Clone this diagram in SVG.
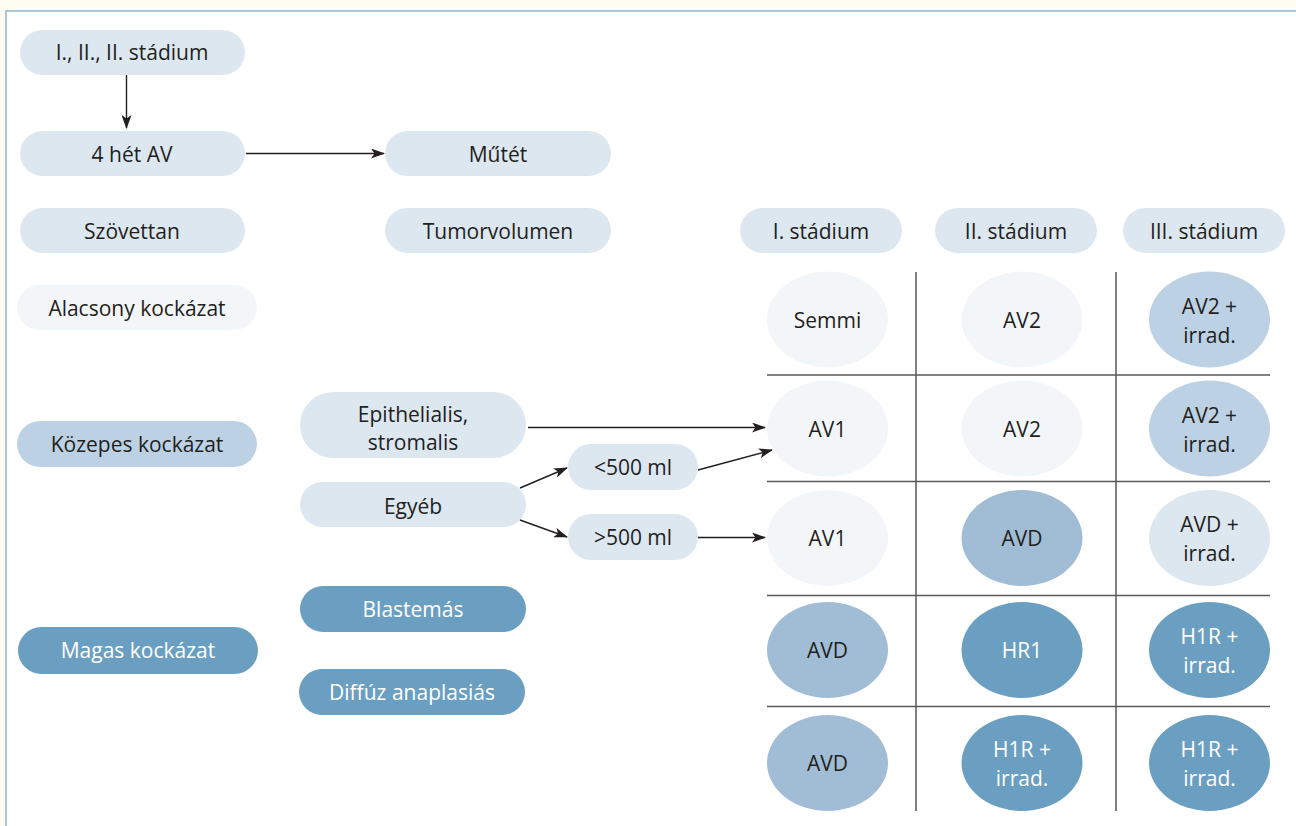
<svg xmlns="http://www.w3.org/2000/svg" width="1296" height="826" viewBox="0 0 1296 826">
<defs>
<marker id="ah" viewBox="0 0 14 10" markerWidth="14" markerHeight="10" refX="13" refY="5" orient="auto" markerUnits="userSpaceOnUse">
<path d="M0,0 L14,5 L0,10 L3.5,5 z" fill="#231f20"/>
</marker>
<style>
text{font-family:"Open Sans","Noto Sans","Liberation Sans",sans-serif;font-size:21px;fill:#231f20;text-anchor:middle}
text.w{fill:#ffffff}
.c1{fill:#dde7f0}
.c0{fill:#f3f6f9}
.c2{fill:#bcd1e4}
.c3{fill:#a0bdd5}
.c4{fill:#6b9fc1}
.grid line{stroke:#58595b;stroke-width:1.5}
.conn line{stroke:#231f20;stroke-width:1.4;marker-end:url(#ah)}
</style>
</defs>
<rect x="0" y="0" width="1296" height="826" fill="#fffdf2"/>
<rect x="6" y="11" width="1300" height="830" fill="#ffffff" stroke="#a9c6dc" stroke-width="2"/>

<g id="n-stadium-all"><rect class="c1" x="20" y="30" width="225" height="45" rx="22.5"/><text x="132" y="60">I., II., II. stádium</text></g>
<g id="n-4het"><rect class="c1" x="20" y="131" width="225" height="45" rx="22.5"/><text x="132" y="162">4 hét AV</text></g>
<g id="n-mutet"><rect class="c1" x="385" y="131" width="226" height="45" rx="22.5"/><text x="498" y="162">Műtét</text></g>
<g id="n-szovettan"><rect class="c1" x="20" y="208" width="225" height="45" rx="22.5"/><text x="132" y="239">Szövettan</text></g>
<g id="n-tumorvolumen"><rect class="c1" x="385" y="208" width="226" height="45" rx="22.5"/><text x="498" y="239">Tumorvolumen</text></g>
<g id="n-st1"><rect class="c1" x="740" y="208" width="162" height="45" rx="22.5"/><text x="821" y="239">I. stádium</text></g>
<g id="n-st2"><rect class="c1" x="935" y="208" width="162" height="45" rx="22.5"/><text x="1016" y="239">II. stádium</text></g>
<g id="n-st3"><rect class="c1" x="1123" y="208" width="162" height="45" rx="22.5"/><text x="1204" y="239">III. stádium</text></g>

<g id="n-alacsony"><rect class="c0" x="17" y="285" width="240" height="45" rx="22.5"/><text x="137" y="316">Alacsony kockázat</text></g>
<g id="n-kozepes"><rect class="c2" x="17" y="421" width="240" height="46" rx="23"/><text x="137" y="452">Közepes kockázat</text></g>
<g id="n-magas"><rect class="c4" x="18" y="627" width="240" height="47" rx="23.5"/><text class="w" x="138" y="658">Magas kockázat</text></g>

<g id="n-epith"><rect class="c1" x="300" y="392" width="226" height="66" rx="33"/><text x="413" y="422">Epithelialis,</text><text x="413" y="450">stromalis</text></g>
<g id="n-egyeb"><rect class="c1" x="300" y="482" width="226" height="45" rx="22.5"/><text x="413" y="514">Egyéb</text></g>
<g id="n-lt500"><rect class="c1" x="568" y="444" width="130" height="46" rx="23"/><text x="633" y="475">&lt;500 ml</text></g>
<g id="n-gt500"><rect class="c1" x="568" y="514" width="130" height="46" rx="23"/><text x="633" y="545">&gt;500 ml</text></g>
<g id="n-blastemas"><rect class="c4" x="300" y="586" width="226" height="46" rx="23"/><text class="w" x="413" y="617">Blastemás</text></g>
<g id="n-diffuz"><rect class="c4" x="299" y="669" width="226" height="46" rx="23"/><text class="w" x="412" y="700">Diffúz anaplasiás</text></g>

<g class="grid" id="grid">
<line x1="916" y1="272" x2="916" y2="811"/>
<line x1="1116" y1="272" x2="1116" y2="811"/>
<line x1="767" y1="375" x2="1270" y2="375"/>
<line x1="767" y1="481.5" x2="1270" y2="481.5"/>
<line x1="767" y1="595.5" x2="1270" y2="595.5"/>
<line x1="767" y1="706.5" x2="1270" y2="706.5" stroke="#231f20"/>
</g>

<g id="r1c1"><ellipse class="c0" cx="827.5" cy="319.5" rx="60.5" ry="48"/><text x="827.5" y="328">Semmi</text></g>
<g id="r1c2"><ellipse class="c0" cx="1022" cy="319.5" rx="60.5" ry="48"/><text x="1022" y="328">AV2</text></g>
<g id="r1c3"><ellipse class="c2" cx="1209.5" cy="319.5" rx="60.5" ry="48"/><text x="1209.5" y="314">AV2 +</text><text x="1209.5" y="343">irrad.</text></g>

<g id="r2c1"><ellipse class="c0" cx="827.5" cy="428.5" rx="60.5" ry="48"/><text x="827.5" y="437">AV1</text></g>
<g id="r2c2"><ellipse class="c0" cx="1022" cy="428.5" rx="60.5" ry="48"/><text x="1022" y="437">AV2</text></g>
<g id="r2c3"><ellipse class="c2" cx="1209.5" cy="428.5" rx="60.5" ry="48"/><text x="1209.5" y="423">AV2 +</text><text x="1209.5" y="452">irrad.</text></g>

<g id="r3c1"><ellipse class="c0" cx="827.5" cy="538" rx="60.5" ry="48"/><text x="827.5" y="546">AV1</text></g>
<g id="r3c2"><ellipse class="c3" cx="1022" cy="538" rx="60.5" ry="48"/><text x="1022" y="546">AVD</text></g>
<g id="r3c3"><ellipse class="c1" cx="1209.5" cy="538" rx="60.5" ry="48"/><text x="1209.5" y="532">AVD +</text><text x="1209.5" y="561">irrad.</text></g>

<g id="r4c1"><ellipse class="c3" cx="827.5" cy="650" rx="60.5" ry="48"/><text x="827.5" y="658">AVD</text></g>
<g id="r4c2"><ellipse class="c4" cx="1022" cy="650" rx="60.5" ry="48"/><text class="w" x="1022" y="658">HR1</text></g>
<g id="r4c3"><ellipse class="c4" cx="1209.5" cy="650" rx="60.5" ry="48"/><text class="w" x="1209.5" y="644">H1R +</text><text class="w" x="1209.5" y="673">irrad.</text></g>

<g id="r5c1"><ellipse class="c3" cx="827.5" cy="763" rx="60.5" ry="48"/><text x="827.5" y="771">AVD</text></g>
<g id="r5c2"><ellipse class="c4" cx="1022" cy="763" rx="60.5" ry="48"/><text class="w" x="1022" y="757">H1R +</text><text class="w" x="1022" y="786">irrad.</text></g>
<g id="r5c3"><ellipse class="c4" cx="1209.5" cy="763" rx="60.5" ry="48"/><text class="w" x="1209.5" y="757">H1R +</text><text class="w" x="1209.5" y="786">irrad.</text></g>

<g class="conn" id="connectors">
<line x1="126.5" y1="75" x2="126.5" y2="128"/>
<line x1="246" y1="153.5" x2="384" y2="153.5"/>
<line x1="528" y1="427.5" x2="765" y2="427.5"/>
<line x1="520" y1="488" x2="567" y2="468"/>
<line x1="520" y1="520" x2="567" y2="537"/>
<line x1="698" y1="470" x2="772" y2="450"/>
<line x1="698" y1="537.5" x2="765" y2="537.5"/>
</g>
</svg>
